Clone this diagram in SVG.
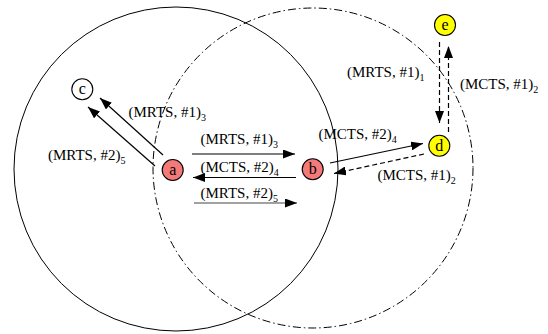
<svg xmlns="http://www.w3.org/2000/svg" width="548" height="334" viewBox="0 0 548 334">
<style>
text{font-family:"Liberation Serif","Times New Roman",serif;fill:#000}
.lbl{font-size:15px}
.sub{font-size:10px}
.nl{font-size:16px;text-anchor:middle}
.node{stroke:#000;stroke-width:1.1}
.red{fill:#f47a7a}
.yel{fill:#ffff00}
.wht{fill:#fff}
.arr{stroke:#000;stroke-width:1.2;fill:none;marker-end:url(#ah)}
.grey{stroke:#444}
.dash{stroke-dasharray:5,3}
</style>
<defs>
<marker id="ah" viewBox="0 0 12 9" refX="12" refY="4.5" markerWidth="12" markerHeight="9" markerUnits="userSpaceOnUse" orient="auto">
<path d="M0,0 L12,4.5 L0,9 z" fill="#000"/>
</marker>
</defs>
<g id="ranges">
<circle cx="176" cy="169" r="162" fill="none" stroke="#000" stroke-width="1"/>
<circle cx="313" cy="168" r="160" fill="none" stroke="#000" stroke-width="1" stroke-dasharray="8,3,1.5,3"/>
</g>
<g id="connectors">
<line class="arr" x1="163" y1="155" x2="100" y2="98"/>
<line class="arr" x1="155" y1="166" x2="88" y2="107"/>
<line class="arr" x1="192" y1="154" x2="295" y2="154"/>
<line class="arr" x1="296" y1="177.5" x2="193" y2="177.5"/>
<line class="arr grey" x1="194" y1="203" x2="297" y2="203"/>
<line class="arr" x1="330" y1="163" x2="423" y2="143.5"/>
<line class="arr dash" x1="424" y1="154" x2="334" y2="173.5"/>
<line class="arr dash" x1="439.5" y1="42" x2="439.5" y2="123"/>
<line class="arr dash" x1="448.5" y1="132" x2="448.5" y2="46"/>
</g>
<g id="labels">
<text class="lbl" x="128.5" y="117">(MRTS, #1)<tspan class="sub" dy="4">3</tspan></text>
<text class="lbl" x="48" y="160">(MRTS, #2)<tspan class="sub" dy="4">5</tspan></text>
<text class="lbl" x="200.5" y="144">(MRTS, #1)<tspan class="sub" dy="4">3</tspan></text>
<text class="lbl" x="200.5" y="171.5">(MCTS, #2)<tspan class="sub" dy="4">4</tspan></text>
<text class="lbl" x="200.5" y="198">(MRTS, #2)<tspan class="sub" dy="4">5</tspan></text>
<text class="lbl" x="318.5" y="139">(MCTS, #2)<tspan class="sub" dy="4">4</tspan></text>
<text class="lbl" x="377.5" y="180">(MCTS, #1)<tspan class="sub" dy="4">2</tspan></text>
<text class="lbl" x="347" y="77">(MRTS, #1)<tspan class="sub" dy="4">1</tspan></text>
<text class="lbl" x="460" y="88.5">(MCTS, #1)<tspan class="sub" dy="4">2</tspan></text>
</g>
<g id="node-a"><circle class="node red" cx="172.7" cy="170" r="10.5"/><text class="nl" x="172.7" y="175">a</text></g>
<g id="node-b"><circle class="node red" cx="312.7" cy="169.3" r="10.5"/><text class="nl" x="312.7" y="174.3">b</text></g>
<g id="node-c"><circle class="node wht" cx="82.3" cy="89.3" r="10.5"/><text class="nl" x="82.3" y="94.3">c</text></g>
<g id="node-d"><circle class="node yel" cx="439.3" cy="145.7" r="10.5"/><text class="nl" x="439.3" y="150.7">d</text></g>
<g id="node-e"><circle class="node yel" cx="445" cy="25" r="10.5"/><text class="nl" x="445" y="30">e</text></g>
</svg>
